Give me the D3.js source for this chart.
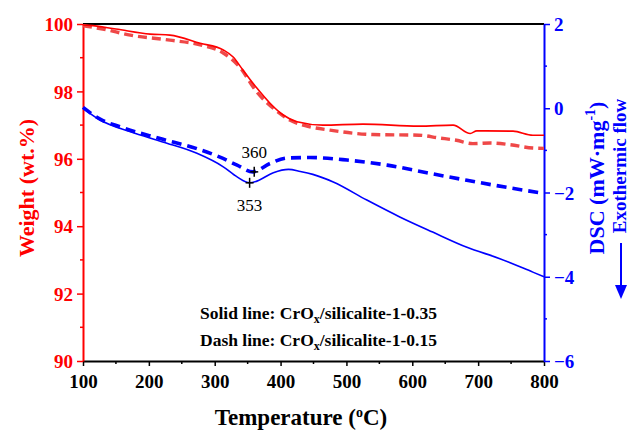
<!DOCTYPE html>
<html>
<head>
<meta charset="utf-8">
<script src="https://cdn.jsdelivr.net/npm/d3@7"></script>
<style>
  body { margin: 0; background: white; }
  svg text { font-family: "Liberation Serif", "Times New Roman", serif; }
</style>
</head>
<body>
<script>

// Temperature ticks and axis ranges
var tempTicks = [100, 200, 300, 400, 500, 600, 700, 800];
var weightTicks = [90, 92, 94, 96, 98, 100];
var dscTicks = [-6, -4, -2, 0, 2];

// TG, CrOx/silicalite-1-0.35 (solid)
var tgSolid = [
  [100, 99.97], [110, 99.96], [150, 99.85], [202, 99.70], [232, 99.67], [278, 99.43],
  [313, 99.23], [328, 99.02], [343, 98.63], [364, 98.10], [384, 97.65], [404, 97.30],
  [425, 97.10], [464, 97.00], [525, 97.03], [610, 96.97], [662, 97.00], [688, 96.75],
  [698, 96.83], [753, 96.82], [783, 96.70], [800, 96.70]
];

// TG, CrOx/silicalite-1-0.15 (dash)
var tgDash = [
  [100, 99.95], [130, 99.85], [172, 99.67], [232, 99.52], [278, 99.38], [313, 99.14],
  [338, 98.72], [364, 97.98], [389, 97.50], [414, 97.15], [440, 96.97], [475, 96.85],
  [540, 96.72], [610, 96.70], [640, 96.62], [667, 96.55], [692, 96.45], [718, 96.47],
  [748, 96.42], [783, 96.32], [800, 96.31]
];

// DSC, CrOx/silicalite-1-0.35 (solid)
var dscSolid = [
  [100, 0.00], [126, -0.28], [172, -0.56], [221, -0.80], [273, -1.07], [313, -1.39],
  [334, -1.63], [353, -1.77], [364, -1.73], [389, -1.53], [412, -1.45], [430, -1.50],
  [449, -1.57], [480, -1.75], [531, -2.18], [581, -2.58], [631, -2.94], [683, -3.30],
  [733, -3.57], [783, -3.89], [800, -4.00]
];

// DSC, CrOx/silicalite-1-0.15 (dash)
var dscDash = [
  [100, 0.02], [126, -0.26], [156, -0.44], [217, -0.72], [273, -0.96], [308, -1.16],
  [334, -1.35], [358, -1.51], [384, -1.31], [410, -1.18], [445, -1.17], [501, -1.23],
  [562, -1.35], [622, -1.53], [683, -1.71], [744, -1.88], [800, -2.02]
];

// Peak markers
var peaks = [
  { t: 360, v: -1.51, label: "360", above: true },
  { t: 353, v: -1.77, label: "353", above: false }
];

var serif = "'Liberation Serif', 'Times New Roman', serif";

var svg_width = 631, svg_height = 433;
var margin = { left: 83, right: 87, top: 24, bottom: 72 };
var plot_width = svg_width - margin.left - margin.right;
var plot_height = svg_height - margin.top - margin.bottom;

var svg = d3.select("body").append("svg")
            .attr("width", svg_width)
            .attr("height", svg_height);

var chartGroup = svg.append("g")
                    .attr("transform", "translate(" + margin.left + "," + margin.top + ")");

// Scales
var xScale = d3.scaleLinear().domain([100, 800]).range([0, plot_width]);
var yWeight = d3.scaleLinear().domain([90, 100]).range([plot_height, 0]);
var yDsc = d3.scaleLinear().domain([-6, 2]).range([plot_height, 0]);

// Minor ticks
var xMinor = d3.range(150, 800, 100);
var wMinor = d3.range(91, 100, 2);
var dMinor = d3.range(-5, 2, 2);

function styleAxis(g, color)
{
  g.attr("font-family", serif);
  g.selectAll("path").attr("stroke", color).attr("stroke-width", 2);
  g.selectAll("line").attr("stroke", color).attr("stroke-width", 1.5);
  g.selectAll("text").attr("fill", color)
                     .style("font-family", serif)
                     .style("font-size", "19px")
                     .style("font-weight", "bold");
}

// Bottom axis
var xAxisG = chartGroup.append("g")
             .attr("transform", "translate(0," + plot_height + ")")
             .call(d3.axisBottom(xScale).tickValues(tempTicks).tickSize(5).tickPadding(5).tickSizeOuter(0));
styleAxis(xAxisG, "black");
xAxisG.selectAll("text").attr("dy", "0.9em");
xAxisG.selectAll(".minor").data(xMinor).enter().append("line")
      .attr("x1", function(d) { return xScale(d); })
      .attr("x2", function(d) { return xScale(d); })
      .attr("y1", 0).attr("y2", 3)
      .attr("stroke", "black").attr("stroke-width", 1.5);

// Top border
chartGroup.append("line")
          .attr("x1", 0).attr("x2", plot_width)
          .attr("y1", 0).attr("y2", 0)
          .attr("stroke", "black").attr("stroke-width", 2);

// Left axis (weight)
var yLeftG = chartGroup.append("g")
             .call(d3.axisLeft(yWeight).tickValues(weightTicks).tickSize(6).tickPadding(4).tickSizeOuter(0));
styleAxis(yLeftG, "#ff0000");
yLeftG.selectAll("text").attr("dy", "0.35em");
yLeftG.selectAll(".minor").data(wMinor).enter().append("line")
      .attr("y1", function(d) { return yWeight(d); })
      .attr("y2", function(d) { return yWeight(d); })
      .attr("x1", 0).attr("x2", -3)
      .attr("stroke", "#ff0000").attr("stroke-width", 1.5);

// Right axis (DSC)
var yRightG = chartGroup.append("g")
              .attr("transform", "translate(" + plot_width + ",0)")
              .call(d3.axisRight(yDsc).tickValues(dscTicks).tickSize(6).tickPadding(4).tickSizeOuter(0));
styleAxis(yRightG, "#0000ff");
yRightG.selectAll("text").attr("dy", "0.35em");
yRightG.selectAll(".minor").data(dMinor).enter().append("line")
       .attr("y1", function(d) { return yDsc(d); })
       .attr("y2", function(d) { return yDsc(d); })
       .attr("x1", 0).attr("x2", 3)
       .attr("stroke", "#0000ff").attr("stroke-width", 1.5);

// Lines
var weightLine = d3.line()
                   .x(function(d) { return xScale(d[0]); })
                   .y(function(d) { return yWeight(d[1]); })
                   .curve(d3.curveMonotoneX);
var dscLine = d3.line()
                .x(function(d) { return xScale(d[0]); })
                .y(function(d) { return yDsc(d[1]); })
                .curve(d3.curveMonotoneX);

chartGroup.append("path").datum(tgDash)
          .attr("d", weightLine)
          .attr("fill", "none")
          .attr("stroke", "#ef4848")
          .attr("stroke-width", 3.4)
          .attr("stroke-dasharray", "9,5");

chartGroup.append("path").datum(tgSolid)
          .attr("d", weightLine)
          .attr("fill", "none")
          .attr("stroke", "#ff0000")
          .attr("stroke-width", 1.6);

chartGroup.append("path").datum(dscDash)
          .attr("d", dscLine)
          .attr("fill", "none")
          .attr("stroke", "#0000ff")
          .attr("stroke-width", 3.6)
          .attr("stroke-dasharray", "10,6");

chartGroup.append("path").datum(dscSolid)
          .attr("d", dscLine)
          .attr("fill", "none")
          .attr("stroke", "#0000ff")
          .attr("stroke-width", 1.6);

// Peak crosses and labels
peaks.forEach(function(p)
{
  var px = xScale(p.t), py = yDsc(p.v);
  chartGroup.append("line").attr("x1", px - 4).attr("x2", px + 4)
            .attr("y1", py).attr("y2", py)
            .attr("stroke", "black").attr("stroke-width", 1.5);
  chartGroup.append("line").attr("x1", px).attr("x2", px)
            .attr("y1", py - 5).attr("y2", py + 5)
            .attr("stroke", "black").attr("stroke-width", 1.5);
  chartGroup.append("text")
            .attr("x", px)
            .attr("y", p.above ? py - 14 : py + 28)
            .attr("text-anchor", "middle")
            .style("font-family", serif)
            .style("font-size", "17px")
            .text(p.label);
});

// Legend text
function legendLine(y, prefix, suffix)
{
  var t = chartGroup.append("text")
                    .attr("x", 200 - margin.left)
                    .attr("y", y)
                    .style("font-family", serif)
                    .style("font-size", "17.5px")
                    .style("font-weight", "bold");
  t.append("tspan").text(prefix + "CrO");
  t.append("tspan").attr("dy", 4).style("font-size", "12px").text("x");
  t.append("tspan").attr("dy", -4).text("/silicalite-1-" + suffix);
}
legendLine(319 - margin.top, "Solid line: ", "0.35");
legendLine(346 - margin.top, "Dash line: ", "0.15");

// Axis titles
svg.append("text")
   .attr("x", 301).attr("y", 425)
   .attr("text-anchor", "middle")
   .style("font-family", serif)
   .style("font-size", "23px").style("font-weight", "bold")
   .call(function(t)
   {
     t.append("tspan").text("Temperature (");
     t.append("tspan").attr("dy", -8).style("font-size", "14px").text("o");
     t.append("tspan").attr("dy", 8).text("C)");
   });

svg.append("text")
   .attr("transform", "translate(34,188) rotate(-90)")
   .attr("text-anchor", "middle")
   .attr("fill", "#ff0000")
   .style("font-family", serif)
   .style("font-size", "22px").style("font-weight", "bold")
   .text("Weight (wt.%)");

svg.append("text")
   .attr("transform", "translate(604,178) rotate(-90)")
   .attr("text-anchor", "middle")
   .attr("fill", "#0000ff")
   .style("font-family", serif)
   .style("font-size", "22px").style("font-weight", "bold")
   .call(function(t)
   {
     t.append("tspan").text("DSC (mW\u00b7mg");
     t.append("tspan").attr("dy", -9).style("font-size", "14px").text("-1");
     t.append("tspan").attr("dy", 9).text(")");
   });

svg.append("text")
   .attr("transform", "translate(626,166) rotate(-90)")
   .attr("text-anchor", "middle")
   .attr("fill", "#0000ff")
   .style("font-family", serif)
   .style("font-size", "19px").style("font-weight", "bold")
   .text("Exothermic flow");

// Exothermic arrow
svg.append("line")
   .attr("x1", 621).attr("x2", 621)
   .attr("y1", 243).attr("y2", 290)
   .attr("stroke", "#0000ff").attr("stroke-width", 2);
svg.append("path")
   .attr("d", "M615,285 L627,285 L621,299 Z")
   .attr("fill", "#0000ff");

</script>
</body>
</html>
